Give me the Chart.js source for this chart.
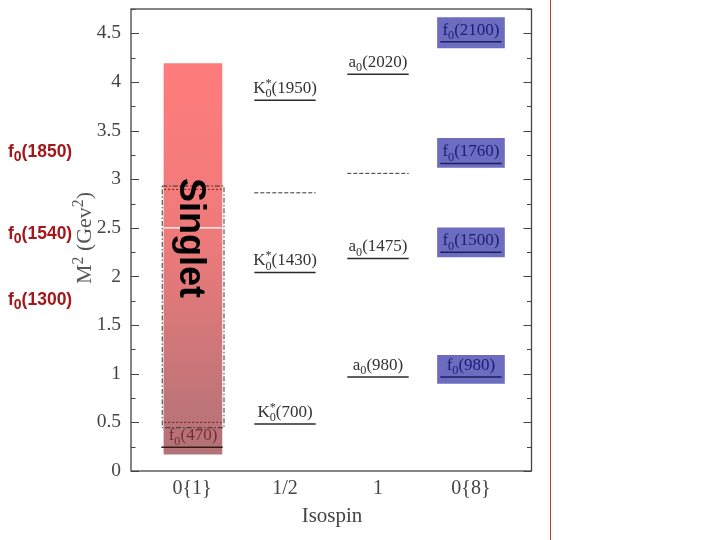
<!DOCTYPE html>
<html><head><meta charset="utf-8">
<script src="https://cdn.jsdelivr.net/npm/chart.js@4"></script>
<style>html,body{margin:0;padding:0;background:#fff;}#wrap{width:720px;height:540px;position:relative;}canvas{display:block;}</style>
</head><body><div id="wrap"><canvas id="c" width="720" height="540"></canvas></div>
<script>
// ---------- data ----------
const categories = ['0{1}', '1/2', '1', '0{8}'];
const yTickValues = [0, 0.5, 1, 1.5, 2, 2.5, 3, 3.5, 4, 4.5];
const yTickLabels = ['0', '0.5', '1', '1.5', '2', '2.5', '3', '3.5', '4', '4.5'];

// measured levels (M^2 in GeV^2)
const levelColumn = [0, 1, 1, 1, 2, 2, 2, 3, 3, 3, 3];
const levelValue  = [0.244, 0.483, 2.042, 3.813, 0.966, 2.186, 4.080, 0.966, 2.248, 3.162, 4.412];
const levelLabel  = ['f_0(470)', 'K_0^*(700)', 'K_0^*(1430)', 'K_0^*(1950)', 'a_0(980)', 'a_0(1475)', 'a_0(2020)', 'f_0(980)', 'f_0(1500)', 'f_0(1760)', 'f_0(2100)'];

// predicted (dashed) levels
const dashedColumn = [1, 2];
const dashedValue  = [2.86, 3.06];

// singlet band
const singletRange = [0.172, 4.19];
const singletBox   = [0.445, 2.93];
const singletMarks = [0.5, 2.895];
const singletWhite = [2.5];

// octet highlight boxes
const octetBoxLow  = [0.90, 2.20, 3.12, 4.35];
const octetBoxHigh = [1.19, 2.50, 3.42, 4.663];

// side annotations
const sideLabels = ['f_0(1850)', 'f_0(1540)', 'f_0(1300)'];
const sideValues = [3.23, 2.39, 1.71];

// ---------- helpers ----------
const SERIF = '"Liberation Serif", "Times New Roman", serif';
const SANS = '"Liberation Sans", Arial, sans-serif';
const HW = 0.33;

function parseRich(s) {
  const items = []; let i = 0; let buf = '';
  while (i < s.length) {
    const ch = s[i];
    if (ch === '_' || ch === '^') {
      if (buf) { items.push({ t: buf }); buf = ''; }
      const it = {};
      while (i < s.length && (s[i] === '_' || s[i] === '^')) {
        if (s[i] === '_') it.sub = s[i + 1]; else it.sup = s[i + 1];
        i += 2;
      }
      items.push(it);
    } else { buf += ch; i++; }
  }
  if (buf) items.push({ t: buf });
  return items;
}
function drawRich(ctx, str, x, y, size, family, weight, color, align, sc) {
  const items = parseRich(str);
  sc = sc || 0.72;
  const fN = weight + ' ' + size + 'px ' + family;
  const fS = weight + ' ' + (size * sc) + 'px ' + family;
  let w = 0;
  const widths = items.map(it => {
    let ww;
    if (it.t !== undefined) { ctx.font = fN; ww = ctx.measureText(it.t).width; }
    else { ctx.font = fS; ww = Math.max(it.sub ? ctx.measureText(it.sub).width : 0, it.sup ? ctx.measureText(it.sup).width : 0); }
    w += ww; return ww;
  });
  let cx = align === 'center' ? x - w / 2 : (align === 'right' ? x - w : x);
  ctx.save();
  ctx.fillStyle = color; ctx.textAlign = 'left'; ctx.textBaseline = 'alphabetic';
  items.forEach((it, k) => {
    if (it.t !== undefined) { ctx.font = fN; ctx.fillText(it.t, cx, y); }
    else {
      ctx.font = fS;
      if (it.sub) ctx.fillText(it.sub, cx, y + size * 0.25);
      if (it.sup) ctx.fillText(it.sup, cx, y - size * 0.38);
    }
    cx += widths[k];
  });
  ctx.restore();
}
function hline(col, v) { return [{ x: col - HW, y: v }, { x: col + HW, y: v }]; }

const colLineColor = ['#3a1818', '#2a2a2a', '#2a2a2a', '#1e1e5a'];
const colTextColor = ['#7a2a35', '#333333', '#333333', '#1c1c78'];

// ---------- datasets ----------
const datasets = [];
datasets.push({
  type: 'bar', order: 30, grouped: false, barThickness: 58,
  data: [{ x: 0.01, y: singletRange }],
  backgroundColor: (c) => {
    const ch = c.chart; if (!ch.chartArea) return '#e07878';
    const ys = ch.scales.y;
    const g = ch.ctx.createLinearGradient(0, ys.getPixelForValue(singletRange[1]), 0, ys.getPixelForValue(singletRange[0]));
    g.addColorStop(0, '#ff7c7c'); g.addColorStop(0.45, '#ee7a7a'); g.addColorStop(1, '#b07377');
    return g;
  },
  borderWidth: 0
});
datasets.push({
  type: 'bar', order: 29, grouped: false, barThickness: 67,
  data: octetBoxLow.map((l, i) => ({ x: 3, y: [l, octetBoxHigh[i]] })),
  backgroundColor: 'rgb(108,108,192)', borderWidth: 0
});
datasets.push({
  type: 'line', order: 5, pointRadius: 0, borderColor: '#333', borderWidth: 1, borderDash: [5, 2, 1.5, 2],
  data: [{ x: -0.32, y: singletBox[1] }, { x: 0.344, y: singletBox[1] }, { x: 0.344, y: singletBox[0] }, { x: -0.32, y: singletBox[0] }, { x: -0.32, y: singletBox[1] }],
  tension: 0
});
singletMarks.forEach(v => datasets.push({
  type: 'line', order: 4, pointRadius: 0, borderColor: '#8b1a1a', borderWidth: 1, borderDash: [2, 2],
  data: [{ x: -0.30, y: v }, { x: 0.32, y: v }]
}));
singletWhite.forEach(v => datasets.push({
  type: 'line', order: 4, pointRadius: 0, borderColor: '#ffffff', borderWidth: 1.2,
  data: [{ x: -0.30, y: v }, { x: 0.32, y: v }]
}));
levelValue.forEach((v, i) => datasets.push({
  type: 'line', order: 2, pointRadius: 0, borderColor: colLineColor[levelColumn[i]], borderWidth: 1.5,
  data: hline(levelColumn[i], v)
}));
dashedValue.forEach((v, i) => datasets.push({
  type: 'line', order: 2, pointRadius: 0, borderColor: '#333', borderWidth: 1, borderDash: [4, 2],
  data: hline(dashedColumn[i], v)
}));

// ---------- plugins ----------
const decor = {
  id: 'decor',
  afterDatasetsDraw(chart) {
    const ctx = chart.ctx; const a = chart.chartArea;
    const xs = chart.scales.x, ys = chart.scales.y;
    // frame
    ctx.save();
    ctx.strokeStyle = '#444'; ctx.lineWidth = 1.3;
    ctx.strokeRect(a.left, a.top, a.right - a.left, a.bottom - a.top);
    // inward ticks
    ctx.lineWidth = 1;
    ys.ticks.forEach(t => {
      const py = Math.round(ys.getPixelForValue(t.value)) + 0.5;
      const major = yTickValues.indexOf(t.value) >= 0;
      const L = major ? 8 : 4.5;
      ctx.beginPath();
      ctx.moveTo(a.left, py); ctx.lineTo(a.left + L, py);
      ctx.moveTo(a.right, py); ctx.lineTo(a.right - L, py);
      ctx.stroke();
    });
    ctx.restore();
    // level labels
    levelValue.forEach((v, i) => {
      const col = levelColumn[i];
      const px = xs.getPixelForValue(col) + (col === 0 ? 1 : 0);
      const py = ys.getPixelForValue(v) - 7;
      drawRich(ctx, levelLabel[i], px, py, 17, SERIF, 'normal', colTextColor[col], 'center');
    });
    // side labels
    sideValues.forEach((v, i) => {
      drawRich(ctx, sideLabels[i], 8, ys.getPixelForValue(v), 17.5, SANS, 'bold', '#a3161a', 'left', 0.8);
    });
    // Singlet text
    ctx.save();
    ctx.translate(180, 238); ctx.rotate(Math.PI / 2);
    ctx.font = 'bold 36px ' + SANS; ctx.fillStyle = '#000'; ctx.textAlign = 'center'; ctx.textBaseline = 'alphabetic';
    ctx.fillText('Singlet', 0, 0);
    ctx.restore();
    // y title
    ctx.save();
    ctx.translate(91, 238); ctx.rotate(-Math.PI / 2);
    drawRich(ctx, 'M^2 (Gev^2)', 0, 0, 22, SERIF, 'normal', '#555', 'center');
    ctx.restore();
    // x title
    ctx.save();
    ctx.font = '21px ' + SERIF; ctx.fillStyle = '#444'; ctx.textAlign = 'center'; ctx.textBaseline = 'alphabetic';
    ctx.fillText('Isospin', 332, 522);
    ctx.restore();
    // slide rule line
    ctx.save();
    ctx.strokeStyle = '#c03a3a'; ctx.lineWidth = 1;
    ctx.beginPath(); ctx.moveTo(550.5, 0); ctx.lineTo(550.5, 540); ctx.stroke();
    ctx.restore();
  }
};

new Chart(document.getElementById('c'), {
  type: 'scatter',
  data: { datasets },
  options: {
    responsive: false, animation: false, devicePixelRatio: 1,
    layout: { padding: { left: 0, top: 9, right: 188.5, bottom: 0 } },
    plugins: { legend: { display: false }, tooltip: { enabled: false } },
    scales: {
      x: {
        type: 'linear', min: -0.656, max: 3.651, offset: false,
        grid: { display: false, drawTicks: false, offset: false }, border: { display: false },
        afterBuildTicks: s => { s.ticks = categories.map((c, i) => ({ value: i })); },
        ticks: { autoSkip: false, maxRotation: 0, minRotation: 0, padding: 6, color: '#444',
          font: { family: SERIF, size: 20 }, callback: (v) => categories[v] },
        afterFit: s => { s.height = 69; s.paddingLeft = 0; s.paddingRight = 0; }
      },
      y: {
        type: 'linear', min: 0, max: 4.75,
        grid: { display: false, drawTicks: false }, border: { display: false },
        ticks: { stepSize: 0.25, autoSkip: false, padding: 10, color: '#444',
          font: { family: SERIF, size: 19.5 },
          callback: v => { const k = yTickValues.indexOf(v); return k >= 0 ? yTickLabels[k] : ''; } },
        afterFit: s => { s.width = 131; s.paddingTop = 0; s.paddingBottom = 0; }
      }
    }
  },
  plugins: [decor]
});
</script></body></html>
